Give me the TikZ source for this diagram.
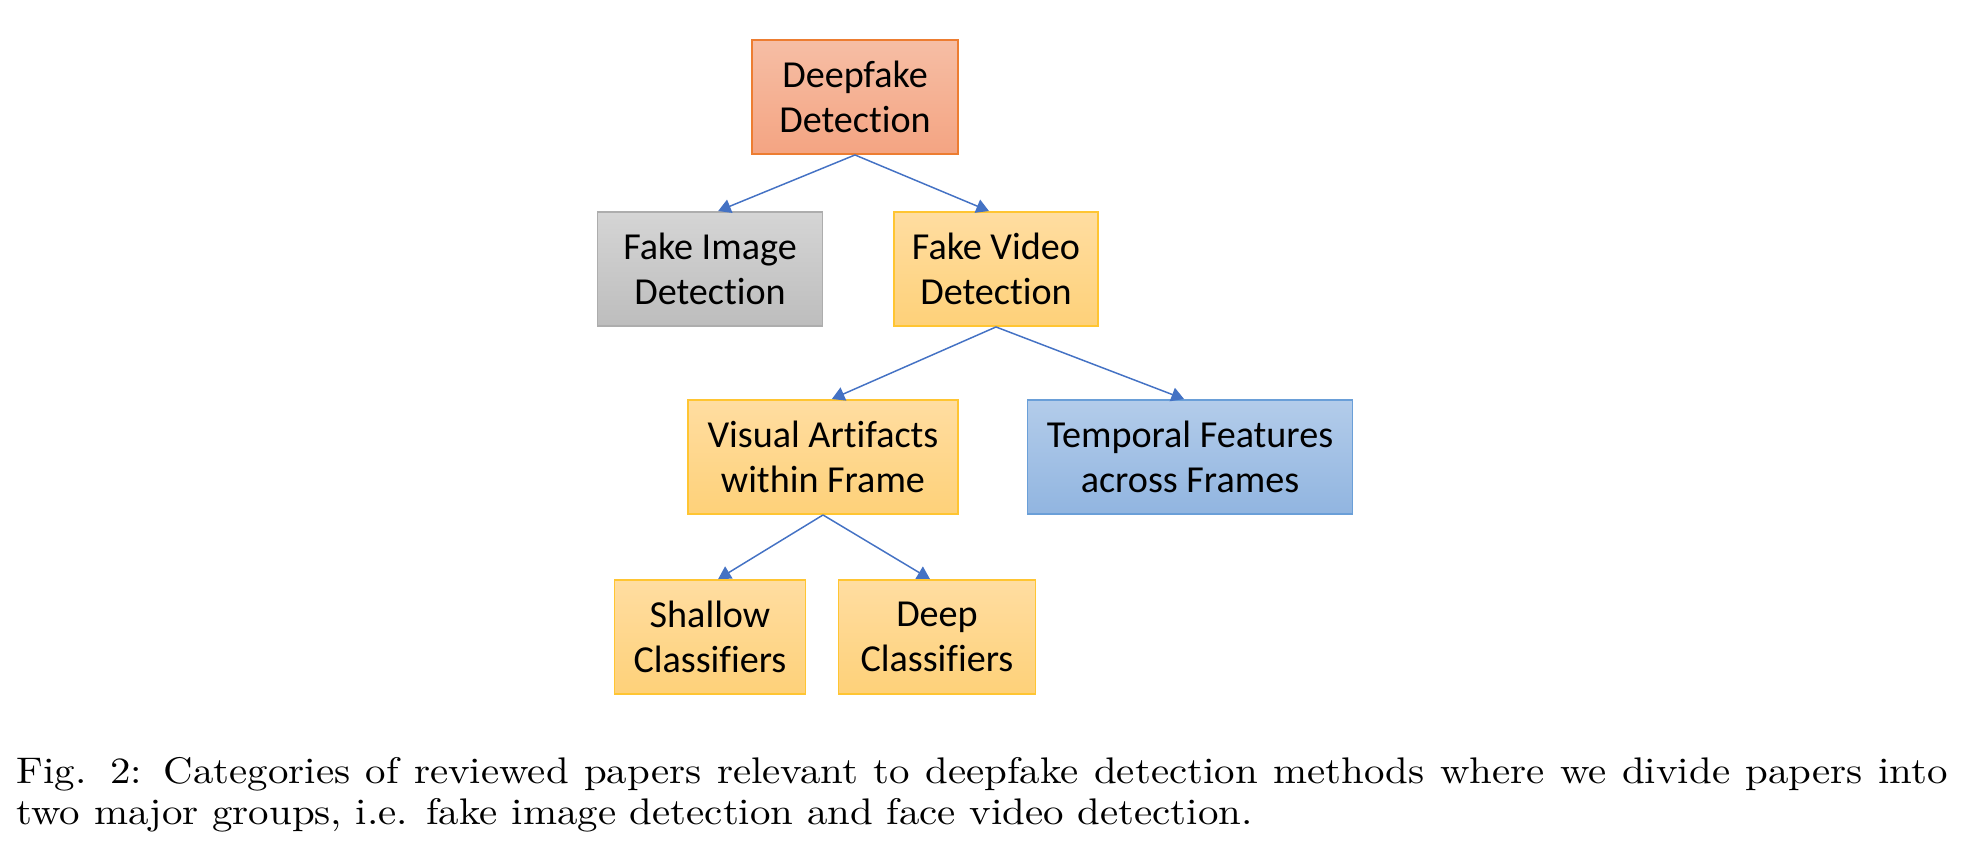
\documentclass[tikz,border=0pt]{standalone}
\usepackage{fontspec}
\newfontfamily\boxfont{Carlito}[Ligatures = NoCommon]
\newfontfamily\capfont{lmroman10-regular}[Extension = .otf, FakeStretch = 1.105]
\usetikzlibrary{arrows.meta}

\definecolor{dfTop}{HTML}{F6BEA5}
\definecolor{dfBot}{HTML}{F4A482}
\definecolor{dfLine}{HTML}{ED7D31}
\definecolor{imTop}{HTML}{D5D5D5}
\definecolor{imBot}{HTML}{BDBDBD}
\definecolor{imLine}{HTML}{ADADAD}
\definecolor{vdTop}{HTML}{FFDDA1}
\definecolor{vdBot}{HTML}{FED179}
\definecolor{vdLine}{HTML}{FFC532}
\definecolor{tpTop}{HTML}{B3CCEA}
\definecolor{tpBot}{HTML}{91B5E0}
\definecolor{tpLine}{HTML}{6A9FD8}
\definecolor{connBlue}{HTML}{4472C4}

\begin{document}
\begin{tikzpicture}[x = 0.27pt, y = -0.27pt,
    box/.style = {rectangle, inner sep = 0pt, minimum height = 30.9pt, align = center,
                  line width = 0.4pt, font = \boxfont\fontsize{10.3}{12.2}\selectfont},
    orangebox/.style = {box, draw = dfLine, top color = dfTop, bottom color = dfBot},
    graybox/.style   = {box, draw = imLine, top color = imTop, bottom color = imBot},
    goldbox/.style   = {box, draw = vdLine, top color = vdTop, bottom color = vdBot},
    bluebox/.style   = {box, draw = tpLine, top color = tpTop, bottom color = tpBot},
    conn/.style = {draw = connBlue, line width = 0.4pt, -{Triangle[length = 3.4pt, width = 3.8pt]}}]

    \useasboundingbox (0, 0) rectangle (1966, 856);

    \node (DF) at ( 855,  97) [orangebox, minimum width = 55.6pt] {Deepfake\\Detection};
    \node (FI) at ( 710, 269) [graybox,   minimum width = 60.8pt] {Fake Image\\Detection};
    \node (FV) at ( 996, 269) [goldbox,   minimum width = 55.1pt] {Fake Video\\Detection};
    \node (VA) at ( 823, 457) [goldbox,   minimum width = 72.9pt] {Visual Artifacts\\within Frame};
    \node (TF) at (1190, 457) [bluebox,   minimum width = 87.8pt] {Temporal Features\\across Frames};
    \node (SC) at ( 710, 637) [goldbox,   minimum width = 51.6pt] {Shallow\\Classifiers};
    \node (DC) at ( 937, 637) [goldbox,   minimum width = 53.2pt] {Deep\\Classifiers};

    % caption below the tree
    \node (CAP) at (16, 783) [anchor = base west, inner sep = 0pt, text width = 521.4pt, align = justify,
        font = \capfont\fontsize{10}{11.15}\selectfont]
        {Fig. 2: Categories of reviewed papers relevant to deepfake detection methods where we divide papers into\linebreak two major groups, i.e. fake image detection and face video detection.};

    \foreach \from/\dx/\to in {DF/2.2pt/FI, DF/-1.9pt/FV, FV/2.4pt/VA, FV/-1.6pt/TF, VA/2.2pt/SC, VA/-1.9pt/DC}
        \path[conn] (\from.south) -- ([xshift = \dx]\to.north);

\end{tikzpicture}
\end{document}
